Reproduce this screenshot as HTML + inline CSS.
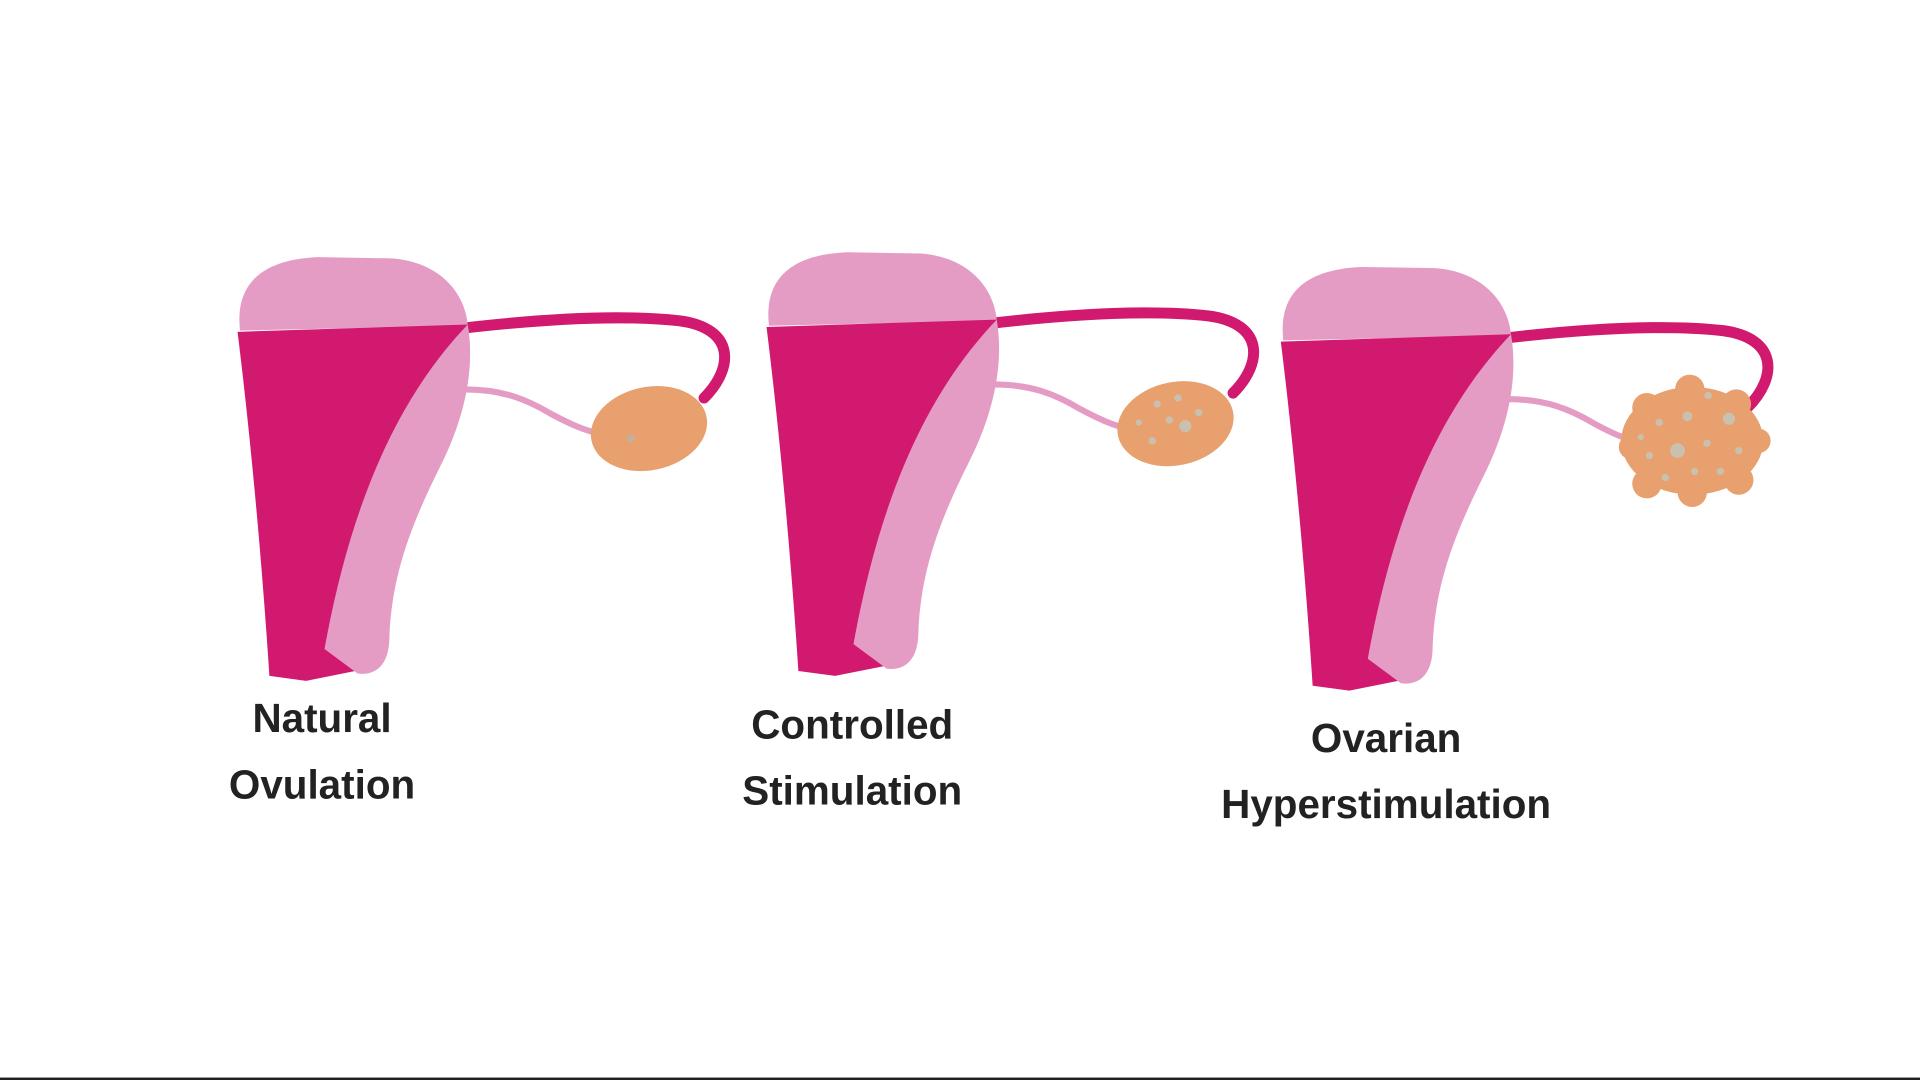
<!DOCTYPE html>
<html><head><style>
html,body{margin:0;padding:0;background:#fff;width:1920px;height:1080px;overflow:hidden}
svg{display:block}
text{font-family:"Liberation Sans",sans-serif;font-size:33px;fill:#222;text-anchor:middle;font-weight:bold}
</style></head><body>
<svg width="1920" height="1080" viewBox="0 0 1568 882" preserveAspectRatio="none">
<rect width="1568" height="882" fill="#fff"/>
<defs>
<g id="ut">
  <path d="M380 318 C410 318 430 326 450 338 C465 346 478 352 490 354" stroke="#e59cc4" stroke-width="5" fill="none"/>
  <path d="M378 268 C430 262 500 256 555 262 C600 268 600 300 575 325" stroke="#d0196f" stroke-width="9" fill="none" stroke-linecap="round"/>
  <path d="M196 270 C192 235 210 212 260 210 L320 211 C360 214 380 240 382 266 Z" fill="#e59cc4"/>
  <path d="M194 271 L382 265 L375 285 C330 330 290 420 268 530 L290 548 L250 556 L220 552 C214 460 205 360 194 271 Z" fill="#d0196f"/>
  <path d="M382 265 C388 300 380 340 360 380 C335 430 320 470 318 520 C318 545 305 552 292 550 L265 530 C285 420 320 330 382 265 Z" fill="#e59cc4"/>
</g>
</defs>
<use href="#ut"/>
<ellipse cx="530" cy="350" rx="48" ry="34" fill="#e8a06e" transform="rotate(-12 530 350)"/>
<circle cx="515" cy="358" r="3" fill="#bdb3a0"/>

<use href="#ut" transform="translate(432,-4)"/>
<ellipse cx="960" cy="346" rx="48" ry="34" fill="#e8a06e" transform="rotate(-12 960 346)"/>
<g fill="#c9c0b0"><circle cx="945" cy="330" r="3"/><circle cx="962" cy="325" r="3"/><circle cx="968" cy="348" r="5"/><circle cx="955" cy="343" r="3"/><circle cx="941" cy="360" r="3"/><circle cx="979" cy="337" r="3"/><circle cx="930" cy="345" r="2.5"/></g>

<use href="#ut" transform="translate(852,8)"/>
<g fill="#e8a06e">
<ellipse cx="1382" cy="360" rx="58" ry="44"/>
<circle cx="1332" cy="365" r="10"/><circle cx="1345" cy="333" r="12"/><circle cx="1380" cy="318" r="12"/><circle cx="1418" cy="330" r="12"/><circle cx="1436" cy="360" r="10"/><circle cx="1420" cy="392" r="12"/><circle cx="1382" cy="402" r="12"/><circle cx="1345" cy="395" r="12"/>
</g>
<g fill="#c9c0b0"><circle cx="1355" cy="345" r="3"/><circle cx="1378" cy="340" r="4"/><circle cx="1395" cy="323" r="3"/><circle cx="1412" cy="342" r="5"/><circle cx="1370" cy="368" r="6"/><circle cx="1394" cy="362" r="3"/><circle cx="1420" cy="368" r="3"/><circle cx="1347" cy="372" r="3"/><circle cx="1384" cy="385" r="3"/><circle cx="1360" cy="390" r="3"/><circle cx="1405" cy="385" r="3"/><circle cx="1340" cy="357" r="2.5"/></g>

<text x="263" y="598">Natural</text>
<text x="263" y="652">Ovulation</text>
<text x="696" y="603">Controlled</text>
<text x="696" y="657">Stimulation</text>
<text x="1132" y="614">Ovarian</text>
<text x="1132" y="668">Hyperstimulation</text>
<rect x="0" y="880" width="1568" height="2" fill="#222"/>
</svg>
</body></html>
